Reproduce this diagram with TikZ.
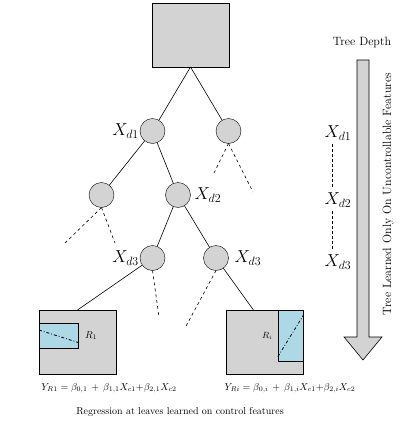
\documentclass[tikz,border=0pt]{standalone}
\usepackage{amsmath,amssymb}
\usepackage{tikz}
\usetikzlibrary{calc,positioning}
\definecolor{nodegray}{RGB}{211,211,211}
\definecolor{leafblue}{RGB}{173,216,230}
\tikzset{
 dt split/.style={circle,fill=nodegray,draw=black,minimum size=25pt,
                  inner sep=0pt,outer sep=0pt},
 dt box/.style={rectangle,fill=nodegray,draw=black,minimum width=77pt,
                minimum height=64pt,inner sep=0pt,outer sep=0pt},
 dt edge/.style={semithick},
 dt open/.style={semithick,dashed},
 dt region/.style={rectangle,fill=leafblue,draw=black,semithick,inner sep=0pt},
 dt cut/.style={thick,dash dot},
 dt var/.style={font=\LARGE,inner sep=1pt},
 dt eq/.style={font=\normalsize},
 dt note/.style={font=\normalsize}
}

\begin{document}
\begin{tikzpicture}[x=1pt,y=-1pt]
 \useasboundingbox (0,0) rectangle (401,424);
 % tree
 \node[dt box] (root) at (190.5,35) {};
 \node[dt split] (n1) at (152.5,131) {};
 \node[dt split] (n2) at (228.5,131) {};
 \node[dt split] (n3) at (101.5,195) {};
 \node[dt split] (n4) at (178,195) {};
 \node[dt split] (n5) at (152.5,258) {};
 \node[dt split] (n6) at (216,258) {};
 \node[dt box] (leaf1) at (77.5,342) {};
 \node[dt box] (leafi) at (265,342) {};

 \coordinate (o1) at (213,175);
 \coordinate (o2) at (253,192);
 \coordinate (o3) at (63,245);
 \coordinate (o4) at (115,243);
 \coordinate (o5) at (159,317);
 \coordinate (o6) at (185,328);

 \draw[dt edge] (root.south)--(n1);
 \draw[dt edge] (root.south)--(n2);
 \draw[dt edge] (n1)--(n3);
 \draw[dt edge] (n1)--(n4);
 \draw[dt edge] (n4)--(n5);
 \draw[dt edge] (n4)--(n6);
 \draw[dt edge] (n5)--(leaf1.north);
 \draw[dt edge] (n6)--($(leafi.north west)!.35!(leafi.north east)$);
 \draw[dt open] (n2.south)--(o1);
 \draw[dt open] (n2.south)--(o2);
 \draw[dt open] (n3.south)--(o3);
 \draw[dt open] (n3.south)--(o4);
 \draw[dt open] (n5.south)--(o5);
 \draw[dt open] (n6.south)--(o6);

 \node[dt var,left=0pt of n1] {$X_{d1}$};
 \node[dt var,right=3pt of n4] {$X_{d2}$};
 \node[dt var,left=0pt of n5] {$X_{d3}$};
 \node[dt var,right=5pt of n6] {$X_{d3}$};

 % leaf regions
 \node[dt region,anchor=north west,minimum width=39pt,minimum height=25pt]
   (r1) at ($(leaf1.north west)+(0,13)$) {};
 \draw[dt cut] ($(r1.north west)+(0,7)$)--($(r1.south east)+(0,-6)$);
 \node[right=3pt of r1] {$R_1$};
 \node[dt region,anchor=north east,minimum width=25pt,minimum height=51pt]
   (ri) at (leafi.north east) {};
 \draw[dt cut] ($(ri.south west)+(0,-5)$)--($(ri.north east)+(0,5)$);
 \node[left=2pt of ri,font=\small] {$R_i$};

 \node[dt eq] at (109,388)
   {$Y_{R1}=\beta_{0,1}\,+\,\beta_{1,1}X_{c1}{+}\beta_{2,1}X_{c2}$};
 \node[dt eq] at (290,388)
   {$Y_{Ri}=\beta_{0,i}\,+\,\beta_{1,i}X_{c1}{+}\beta_{2,i}X_{c2}$};
 \node[dt note] at (180,412) {Regression at leaves learned on control features};

 % depth arrow
 \draw[fill=nodegray,semithick] (357,60)--(369,60)--(369,337)--(382,337)
   --(363,360)--(344,337)--(357,337)--cycle;
 \node[font=\large] at (362,42) {Tree Depth};
 \node[rotate=90,font=\large] at (388,194)
   {Tree Learned Only On Uncontrollable Features};
 \node[dt var] (d1) at (338,133) {$X_{d1}$};
 \node[dt var] (d2) at (338,200) {$X_{d2}$};
 \node[dt var] (d3) at (338,262) {$X_{d3}$};
 \draw[densely dashed,semithick,shorten <=3pt,shorten >=3pt]
   ([xshift=-6pt]d1.south)--([xshift=-6pt]d2.north);
 \draw[densely dashed,semithick,shorten <=3pt,shorten >=3pt]
   ([xshift=-6pt]d2.south)--([xshift=-6pt]d3.north);
\end{tikzpicture}
\end{document}
